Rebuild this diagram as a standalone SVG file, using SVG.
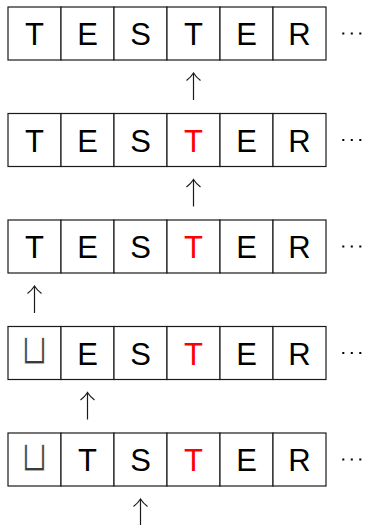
<svg xmlns="http://www.w3.org/2000/svg" width="365" height="525" viewBox="0 0 365 525">
  <style>
    .cell { fill: #ffffff; stroke: #1a1a1a; stroke-width: 1.2; }
    .ch { font-family: "Liberation Sans", Arial, sans-serif; font-size: 31px; fill: #000000; text-anchor: middle; }
    .hl { fill: #ff0000; }
    /* blank-cell mark: thinned by a white outline drawn over the fill */
    .sp { font-family: "DejaVu Sans", sans-serif; font-size: 43px; fill: #3a3a3a; stroke: #ffffff; stroke-width: 1.1; text-anchor: middle; }
    .dots { fill: #000000; }
    .ptr { fill: none; stroke: #1a1a1a; stroke-width: 1.2; }
  </style>
  <defs>
    <!-- six-cell strip of tape -->
    <g id="strip">
      <rect class="cell" x="8" y="0" width="53" height="53"/>
      <rect class="cell" x="61" y="0" width="53" height="53"/>
      <rect class="cell" x="114" y="0" width="53" height="53"/>
      <rect class="cell" x="167" y="0" width="53" height="53"/>
      <rect class="cell" x="220" y="0" width="53" height="53"/>
      <rect class="cell" x="273" y="0" width="53" height="53"/>
      <rect class="dots" x="342.3" y="25.5" width="2" height="2"/>
      <rect class="dots" x="350.8" y="25.5" width="2" height="2"/>
      <rect class="dots" x="359.3" y="25.5" width="2" height="2"/>
    </g>
    <!-- upward pointer: open head with a shaft 27px long -->
    <g id="up">
      <path class="ptr" d="M0,0 V27"/>
      <path class="ptr" d="M-7,7.5 Q-2.5,4 0,0 Q2.5,4 7,7.5"/>
    </g>
  </defs>

  <g id="row1" transform="translate(0,7)">
    <use href="#strip"/>
    <text class="ch" x="34.5" y="38">T</text>
    <text class="ch" x="87.5" y="38">E</text>
    <text class="ch" x="140.5" y="38">S</text>
    <text class="ch" x="193.5" y="38">T</text>
    <text class="ch" x="246.5" y="38">E</text>
    <text class="ch" x="299.5" y="38">R</text>
  </g>

  <g id="row2" transform="translate(0,113.5)">
    <use href="#strip"/>
    <text class="ch" x="34.5" y="38">T</text>
    <text class="ch" x="87.5" y="38">E</text>
    <text class="ch" x="140.5" y="38">S</text>
    <text class="ch hl" x="193.5" y="38">T</text>
    <text class="ch" x="246.5" y="38">E</text>
    <text class="ch" x="299.5" y="38">R</text>
  </g>

  <g id="row3" transform="translate(0,220)">
    <use href="#strip"/>
    <text class="ch" x="34.5" y="38">T</text>
    <text class="ch" x="87.5" y="38">E</text>
    <text class="ch" x="140.5" y="38">S</text>
    <text class="ch hl" x="193.5" y="38">T</text>
    <text class="ch" x="246.5" y="38">E</text>
    <text class="ch" x="299.5" y="38">R</text>
  </g>

  <g id="row4" transform="translate(0,326.5)">
    <use href="#strip"/>
    <text class="sp" transform="translate(34.5,37.5) scale(0.82,1)">⊔</text>
    <text class="ch" x="87.5" y="38">E</text>
    <text class="ch" x="140.5" y="38">S</text>
    <text class="ch hl" x="193.5" y="38">T</text>
    <text class="ch" x="246.5" y="38">E</text>
    <text class="ch" x="299.5" y="38">R</text>
  </g>

  <g id="row5" transform="translate(0,433)">
    <use href="#strip"/>
    <text class="sp" transform="translate(34.5,37.5) scale(0.82,1)">⊔</text>
    <text class="ch" x="87.5" y="38">T</text>
    <text class="ch" x="140.5" y="38">S</text>
    <text class="ch hl" x="193.5" y="38">T</text>
    <text class="ch" x="246.5" y="38">E</text>
    <text class="ch" x="299.5" y="38">R</text>
  </g>

  <!-- head position under each strip -->
  <g id="pointers">
    <use href="#up" x="193.5" y="73"/>
    <use href="#up" x="193.5" y="179.5"/>
    <use href="#up" x="34.5" y="286"/>
    <use href="#up" x="87.5" y="392.5"/>
    <use href="#up" x="140.5" y="499"/>
  </g>
</svg>
